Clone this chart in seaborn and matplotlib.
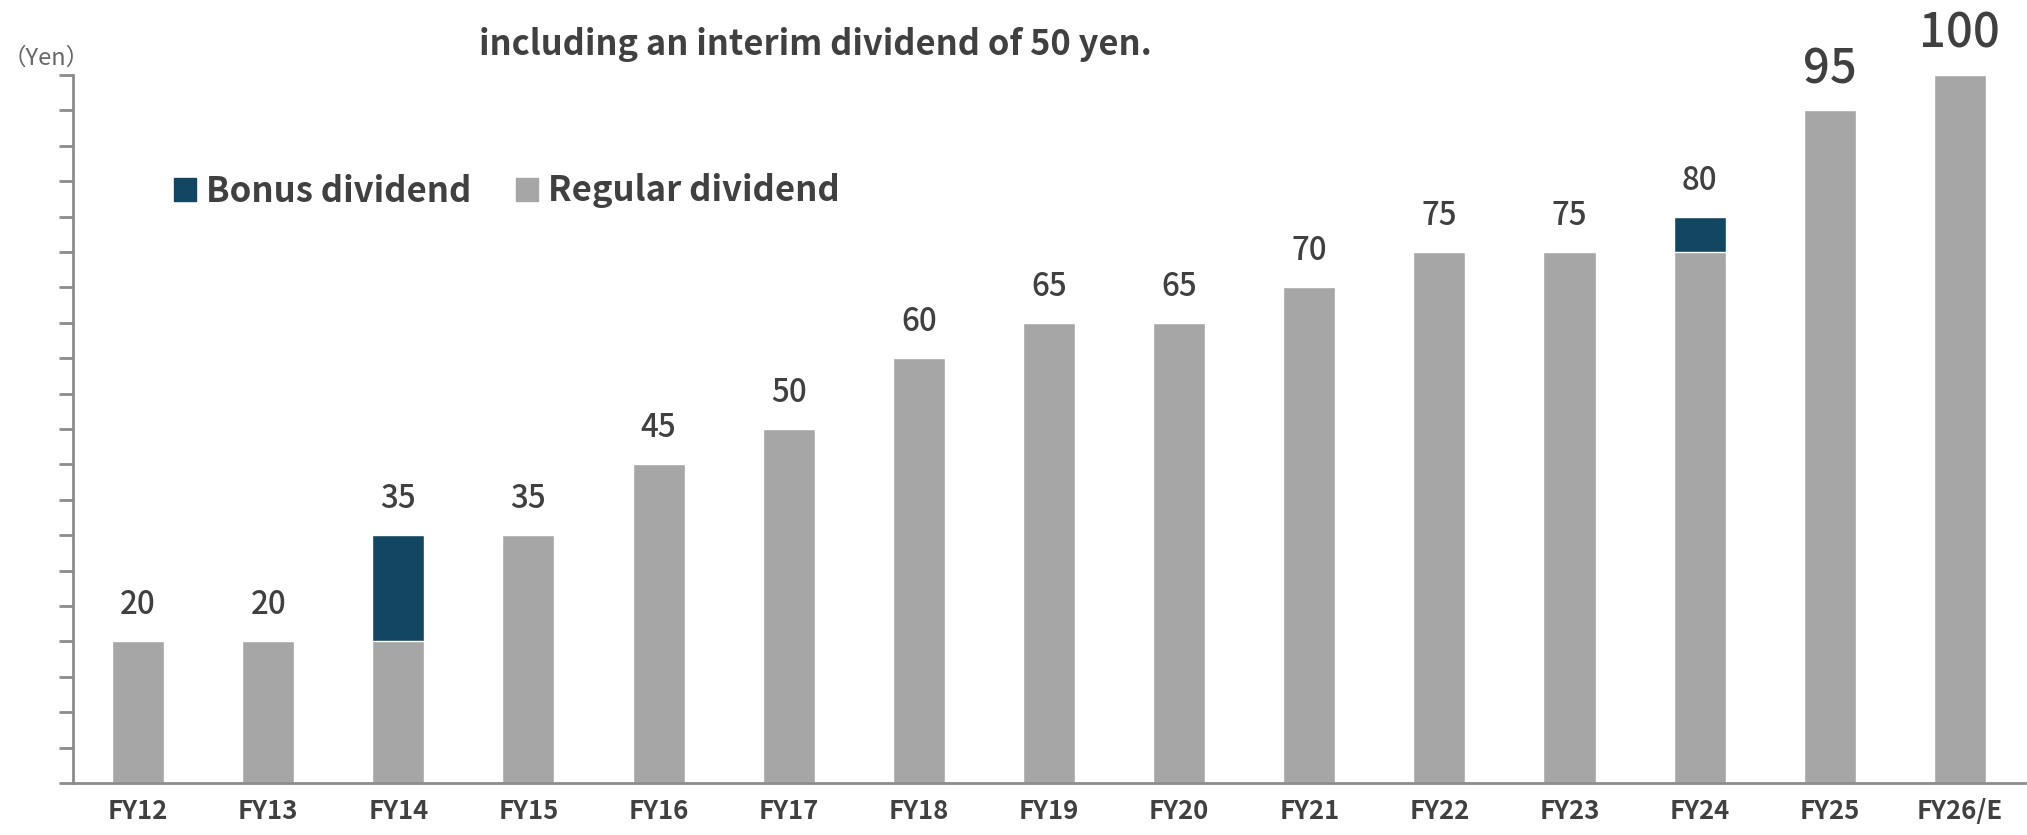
import matplotlib
matplotlib.use("Agg")
import matplotlib.pyplot as plt
from matplotlib.patches import Patch
import numpy as np
import seaborn as sns

# data
years = ["FY12", "FY13", "FY14", "FY15", "FY16", "FY17", "FY18", "FY19",
         "FY20", "FY21", "FY22", "FY23", "FY24", "FY25", "FY26/E"]
regular = [20, 20, 20, 35, 45, 50, 60, 65, 65, 70, 75, 75, 75, 95, 100]
bonus = [0, 0, 15, 0, 0, 0, 0, 0, 0, 0, 0, 0, 5, 0, 0]
total = [r + b for r, b in zip(regular, bonus)]
title = "including an interim dividend of 50 yen."

gray = "#A6A6A6"
navy = "#134761"
txt = "#404040"
axc = "#8C8C8C"

sns.set_theme(style="white")
plt.rcParams["font.family"] = ["Noto Sans CJK JP", "DejaVu Sans"]

fig = plt.figure(figsize=(20.27, 8.35), dpi=100)
ax = fig.add_axes([73 / 2027, 1 - 783 / 835, 1953 / 2027 - 0.0005, (783 - 75) / 835])

# stacked look: total in bonus colour, regular drawn over it
sns.barplot(x=years, y=total, color=navy, saturation=1, width=0.4, ax=ax)
sns.barplot(x=years, y=regular, color=gray, saturation=1, width=0.4, ax=ax)

ax.set_xlim(-0.5, len(years) - 0.5)
ax.set_ylim(0, 100)
ax.set_yticks(np.arange(0, 101, 5))
ax.set_yticklabels([])
ax.set_xticks(np.arange(-0.5, len(years), 1), minor=True)
ax.tick_params(axis="x", which="major", length=0, pad=11)
ax.tick_params(axis="x", which="minor", length=9, width=2, color=axc, direction="out")
ax.tick_params(axis="y", length=10, width=2, color=axc, direction="out", left=True)
for lab in ax.get_xticklabels():
    lab.set_fontsize(18.5)
    lab.set_fontweight("bold")
    lab.set_color(txt)
sns.despine(ax=ax)
for s in ["left", "bottom"]:
    ax.spines[s].set_color(axc)
    ax.spines[s].set_linewidth(2)
ax.set_xlabel("")
ax.set_ylabel("")

# value labels
for i, v in enumerate(total):
    big = i >= len(years) - 2
    ax.annotate(str(v), (i, v), xytext=(0, 19.5), textcoords="offset points",
                ha="center", va="baseline", color=txt,
                fontsize=34 if big else 22.5, fontweight="medium")

fig.text(815 / 2027, 1 - 45 / 835, title, ha="center", va="center",
         fontsize=24.8, fontweight="bold", color=txt)
fig.text(3 / 2027, 1 - 58 / 835, "（Yen）", ha="left", va="center",
         fontsize=17, color="#666666")

handles = [Patch(color=navy, label="Bonus dividend"),
           Patch(color=gray, label="Regular dividend")]
leg = fig.legend(handles=handles, loc="center left", ncol=2,
                 bbox_to_anchor=(174 / 2027, 1 - 191 / 835), frameon=False,
                 fontsize=25, handlelength=0.62, handleheight=0.62,
                 handletextpad=0.3, columnspacing=1.3, borderpad=0,
                 borderaxespad=0)
for t in leg.get_texts():
    t.set_fontweight("bold")
    t.set_color(txt)

fig.savefig("out.png", dpi=100)
